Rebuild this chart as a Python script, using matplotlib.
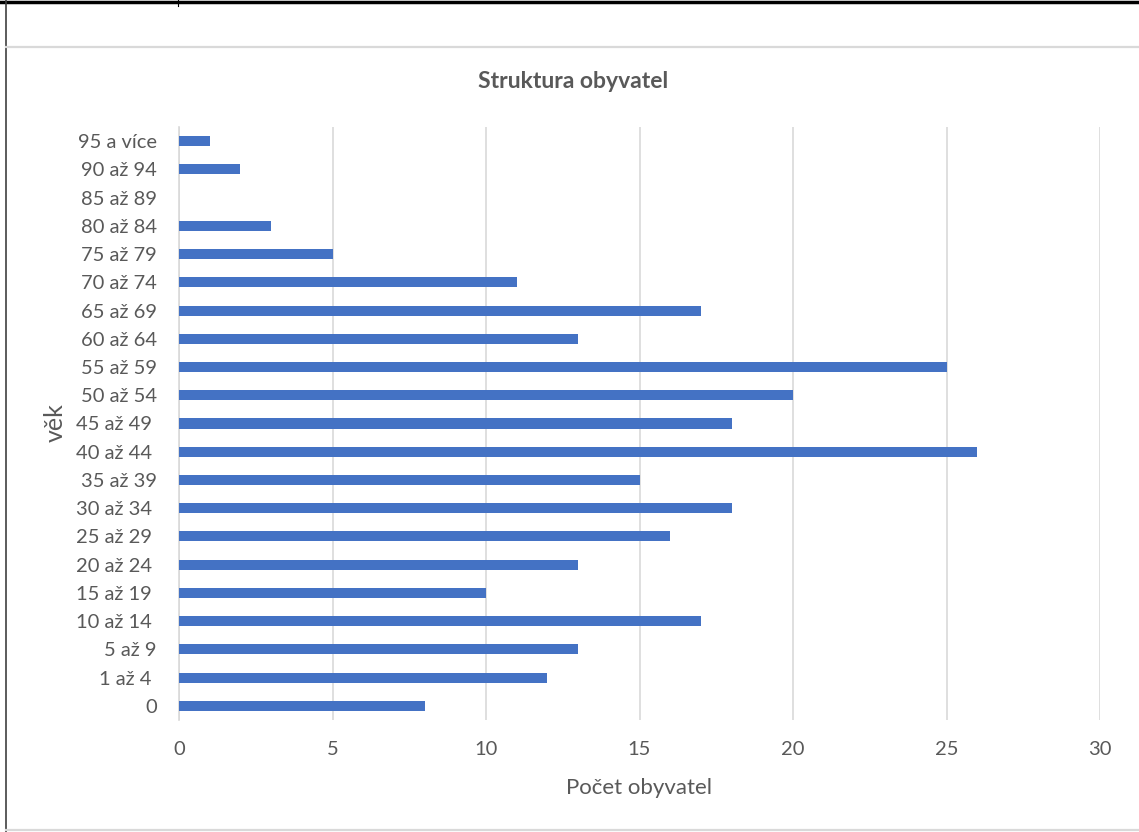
import matplotlib
matplotlib.use("Agg")
import matplotlib.pyplot as plt
from matplotlib.lines import Line2D

plt.rcParams['font.family'] = ['Lato', 'DejaVu Sans']

# age groups, bottom to top (trailing spaces are in the source labels)
vek = ["0", "1 až 4 ", "5 až 9", "10 až 14 ", "15 až 19 ", "20 až 24 ", "25 až 29 ",
       "30 až 34 ", "35 až 39", "40 až 44 ", "45 až 49 ", "50 až 54", "55 až 59",
       "60 až 64", "65 až 69", "70 až 74", "75 až 79", "80 až 84", "85 až 89",
       "90 až 94", "95 a více"]
pocet = [8, 12, 13, 17, 10, 13, 16, 18, 15, 26, 18, 20, 25, 13, 17, 11, 5, 3, 0, 2, 1]
xticks = [0, 5, 10, 15, 20, 25, 30]

W, H = 1139, 832
grey = "#595959"

fig = plt.figure(figsize=(W / 100, H / 100), dpi=100)
ax = fig.add_axes([179 / W, (H - 720) / H, (1100 - 179) / W, (720 - 127) / H])

pos = list(range(len(vek)))
ax.barh(pos, pocet, height=0.355, color="#4472C4", zorder=3)

ax.set_xlim(0, 30)
ax.set_ylim(-0.5, len(vek) - 0.5)
ax.set_xticks(xticks)
ax.set_yticks(pos)
ax.set_yticklabels(vek)
ax.tick_params(axis="both", length=0, labelsize=14.5, colors=grey)
ax.tick_params(axis="x", pad=15)
ax.tick_params(axis="y", pad=16)
ax.grid(axis="x", color="#D9D9D9", linewidth=1.2, zorder=0)
for s in ["top", "right", "bottom"]:
    ax.spines[s].set_visible(False)
ax.spines["left"].set_color("#D9D9D9")
ax.spines["left"].set_linewidth(1.2)

ax.set_xlabel("Počet obyvatel", fontsize=16, color=grey, labelpad=14.5)
ax.set_ylabel("věk", fontsize=18, color=grey)
ax.yaxis.set_label_coords(-0.122, 0.501)

fig.text(573 / W, 1 - 82 / H, "Struktura obyvatel", fontsize=16.5, fontweight="bold",
         color=grey, ha="center", va="center")

# frame lines from the screenshot
def fline(x0, y0, x1, y1, **kw):
    fig.add_artist(Line2D([x0 / W, x1 / W], [1 - y0 / H, 1 - y1 / H], **kw))

fline(0, 2, W, 2, color="black", linewidth=2.5)
fline(6, 0, 6, H, color="#404040", linewidth=1.2)
fline(178, 0, 178, 6, color="black", linewidth=0.8)
fline(6, 47, W, 47, color="#D9D9D9", linewidth=1.6)
fline(6, 830, W, 830, color="#D9D9D9", linewidth=1.6)

fig.savefig("out.png", dpi=100)
